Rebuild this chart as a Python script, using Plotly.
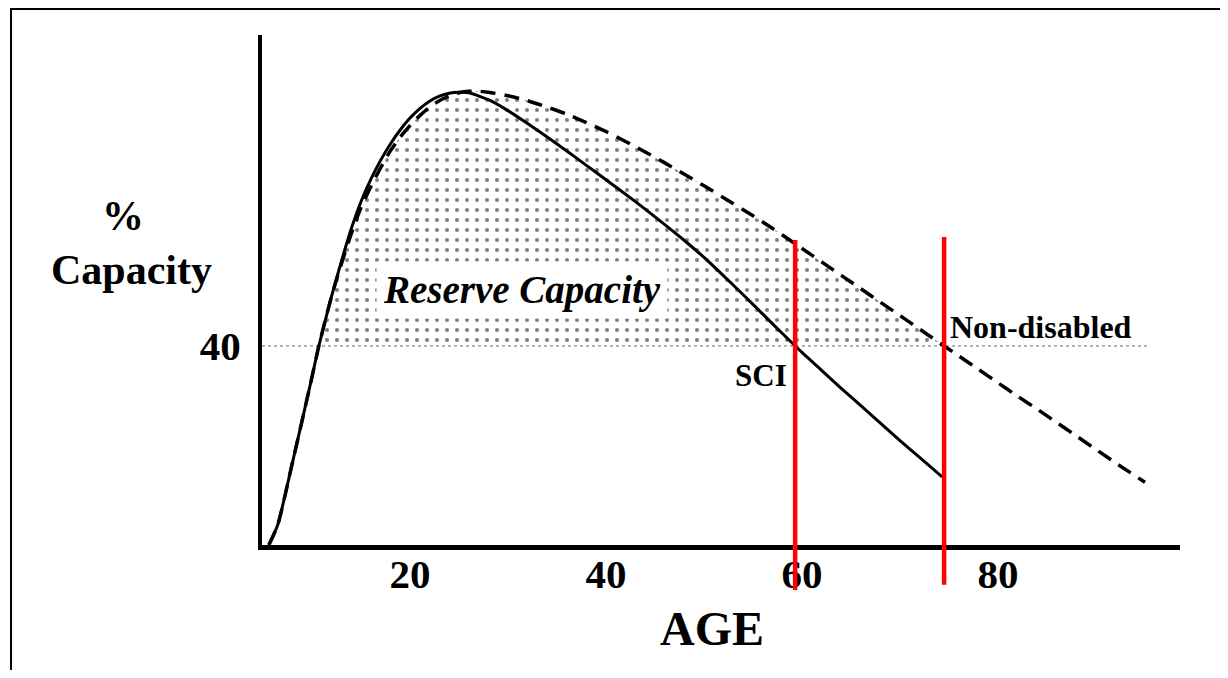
import plotly.graph_objects as go

# ---- data ----
sci_age = [5.6, 6.5, 8.0, 9.8, 10.7, 12, 13, 14, 15, 16, 17, 18, 19, 20, 21, 22, 23, 24, 25, 26,
           28, 30, 32, 34, 36, 38, 40, 42, 44, 46, 48, 50, 52, 54, 56, 58, 60, 62, 64, 66,
           68, 70, 72, 74.3]
sci_cap = [0, 4, 16.5, 32, 40, 50, 57, 63.5, 69, 73.5, 77.3, 80.6, 83.4, 85.8, 87.7, 89.2, 90.2,
           90.8, 91.0, 90.9, 89.5, 87.3, 84.7, 82.0, 79.2, 76.3, 73.4, 70.5, 67.5, 64.4, 61.2,
           57.8, 54.1, 50.3, 46.4, 42.5, 38.7, 35.1, 31.5, 28.0, 24.5, 21.0, 17.6, 13.7]

nd_age = [5.6, 6.5, 8.0, 9.8, 10.7, 12, 13, 14, 15, 16, 17, 18, 19, 20, 21, 22, 23, 24, 25, 26,
          27, 28, 30, 32, 34, 36, 38, 40, 42, 44, 46, 48, 50, 52, 54, 56, 58, 60, 62, 64, 66,
          68, 70, 72, 74.5, 76, 78, 80, 82, 84, 86, 88, 90, 92, 95]
nd_cap = [0, 4, 16.5, 32, 40, 50, 56.5, 62.5, 67.8, 72, 75.8, 79.2, 82, 84.3, 86.3, 88, 89.3,
          90.2, 90.9, 91.2, 91.2, 91.0, 90.3, 89.3, 88.0, 86.6, 84.9, 83.1, 81.1, 79.0, 76.8,
          74.5, 72.2, 69.8, 67.4, 64.9, 62.3, 59.6, 56.9, 54.2, 51.5, 48.8, 46.1, 43.4, 40.0,
          38.0, 35.3, 32.6, 29.9, 27.3, 24.6, 21.9, 19.2, 16.5, 12.6]

threshold = 40
threshold_line_age = [4.9, 95.3]
marker_ages = [59.3, 74.5]
x_ticks = [20, 40, 60, 80]
y_ticks = [40]

FONT = "Liberation Serif"

# reserve region: part of the non-disabled curve at or above the threshold
res_age = [a for a, c in zip(nd_age, nd_cap) if 10.7 <= a <= 74.5]
res_cap = [c for a, c in zip(nd_age, nd_cap) if 10.7 <= a <= 74.5]

fig = go.Figure()

fig.add_trace(go.Scatter(
    x=res_age, y=res_cap, mode="lines", fill="toself",
    line=dict(width=0, shape="spline", smoothing=0.6),
    fillcolor="white",
    fillpattern=dict(shape=".", fgcolor="#000000", bgcolor="white", size=10, solidity=0.13),
    hoverinfo="skip", showlegend=False))

fig.add_trace(go.Scatter(
    x=threshold_line_age, y=[threshold, threshold], mode="lines",
    line=dict(color="#666666", width=1, dash="dot"), showlegend=False))

fig.add_trace(go.Scatter(
    x=nd_age, y=nd_cap, mode="lines", name="Non-disabled",
    line=dict(color="black", width=3.5, dash="15px,9px", shape="spline", smoothing=0.6),
    showlegend=False))

fig.add_trace(go.Scatter(
    x=sci_age, y=sci_cap, mode="lines", name="SCI",
    line=dict(color="black", width=3, shape="spline", smoothing=0.6),
    showlegend=False))

# red marker lines (extend below the axis)
for xa, (yb, yt) in zip(marker_ages, [(-0.088, 0.598), (-0.078, 0.604)]):
    fig.add_shape(type="line", xref="x", yref="paper", x0=xa, x1=xa, y0=yb, y1=yt,
                  line=dict(color="#ff0000", width=4.5))

# outer frame
fig.add_shape(type="rect", xref="paper", yref="paper",
              x0=-0.2734, x1=1.2, y0=-0.5, y1=1.051,
              line=dict(color="black", width=2), fillcolor="rgba(0,0,0,0)")

annots = [
    dict(x=31.4, y=51.3, xref="x", yref="y", text="<b><i>Reserve Capacity</i></b>",
         font=dict(family=FONT, size=39, color="black"), bgcolor="white",
         borderpad=6, showarrow=False, xanchor="center", yanchor="middle"),
    dict(x=53.0, y=34.0, xref="x", yref="y", text="<b>SCI</b>", xanchor="left", yanchor="middle",
         font=dict(family=FONT, size=31, color="black"), showarrow=False),
    dict(x=74.9, y=43.8, xref="x", yref="y", text="<b>Non-disabled</b>", xanchor="left",
         yanchor="middle", font=dict(family=FONT, size=32, color="black"), showarrow=False),
    dict(x=(123 - 262) / 918, y=(545 - 216) / 510, xref="paper", yref="paper",
         xanchor="center", yanchor="middle",
         text="<b>%</b>", font=dict(family=FONT, size=42, color="black"), showarrow=False),
    dict(x=(131 - 262) / 918, y=(545 - 270) / 510, xref="paper", yref="paper",
         xanchor="center", yanchor="middle",
         text="<b>Capacity</b>", font=dict(family=FONT, size=42, color="black"), showarrow=False),
    dict(x=(712 - 262) / 918, y=(545 - 628) / 510, xref="paper", yref="paper",
         xanchor="center", yanchor="middle",
         text="<b>AGE</b>", font=dict(family=FONT, size=48, color="black"), showarrow=False),
]

fig.update_layout(
    width=1220, height=662,
    margin=dict(l=254, r=48, t=27, b=125),
    paper_bgcolor="white", plot_bgcolor="white",
    annotations=annots,
    xaxis=dict(range=[4.9, 98.57], tickvals=x_ticks, ticktext=[str(v) for v in x_ticks],
               showgrid=False, zeroline=False, showline=True, linecolor="black",
               linewidth=5, ticks="", ticklabelstandoff=-11,
               tickfont=dict(family=FONT, size=41, color="black", weight="bold")),
    yaxis=dict(range=[0, 102.5], tickvals=y_ticks, ticktext=[str(v) for v in y_ticks],
               showgrid=False, zeroline=False, showline=True, linecolor="black",
               linewidth=4, ticks="", ticklabelstandoff=9,
               tickfont=dict(family=FONT, size=41, color="black", weight="bold")),
)

fig.write_html("out.html")
